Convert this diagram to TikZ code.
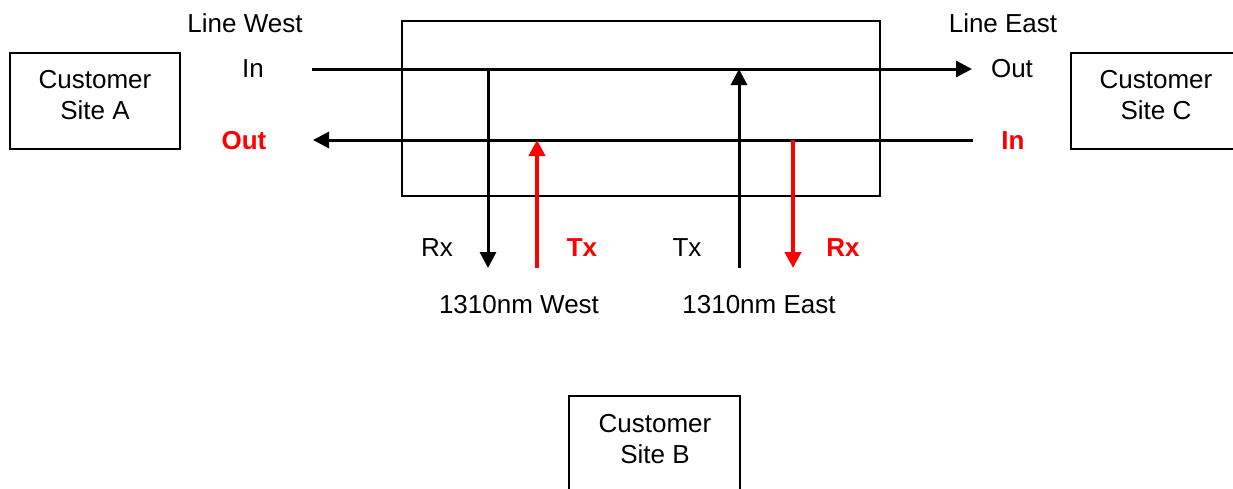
\documentclass[tikz,border=0pt]{standalone}
\usepackage{fontspec}
\setmainfont{Liberation Sans}
\usetikzlibrary{arrows.meta}
\begin{document}
\begin{tikzpicture}[x=1pt,y=-1pt,
  lbl/.style={font=\fontsize{26}{30.5}\selectfont, inner sep=0pt, anchor=base},
  rlbl/.style={lbl, text=red, font=\fontsize{26}{30.5}\selectfont\bfseries},
  sitetext/.style={font=\fontsize{26}{30.5}\selectfont, inner sep=0pt, align=center},
  box/.style={draw, line width=2pt},
  wire/.style={line width=3pt, -{Triangle[length=16pt,width=16pt]}},
  rwire/.style={wire, draw=red, line width=4pt}]
\useasboundingbox (0,0) rectangle (1233,488);
\clip (0,0) rectangle (1233,488);
\fill[white] (0,0) rectangle (1233,488);
% boxes
\draw[box] (10,53) rectangle (180,149);
\draw[box] (402,21) rectangle (880,196);
\draw[box] (1071,53) rectangle (1245,149);
\draw[box] (569,396) rectangle (740,500);
\node[sitetext] (siteA) at (95,95) {Customer\\Site A};
\node[sitetext] (siteC) at (1156,95) {Customer\\Site C};
\node[sitetext] (siteB) at (655,439) {Customer\\Site B};
% labels
\node[lbl] (lw) at (245,32) {Line West};
\node[lbl] (le) at (1003,32) {Line East};
\node[lbl] (inw) at (253,77) {In};
\node[rlbl] (outw) at (244,149) {Out};
\node[lbl] (oute) at (1012,77) {Out};
\node[rlbl] (ine) at (1013,149) {In};
\node[lbl] (rxw) at (437,256) {Rx};
\node[rlbl] (txw) at (582,256) {Tx};
\node[lbl] (txe) at (687,256) {Tx};
\node[rlbl] (rxe) at (843,256) {Rx};
\node[lbl] (nmw) at (519,313) {1310nm West};
\node[lbl] (nme) at (759,313) {1310nm East};
% coordinates
\coordinate (W1) at (312,69);
\coordinate (E1) at (972,69);
\coordinate (E2) at (973,140);
\coordinate (W2) at (313,140);
\coordinate (a1) at (488,69);
\coordinate (a2) at (488,268);
\coordinate (b1) at (537,268);
\coordinate (b2) at (537,140);
\coordinate (c1) at (739,268);
\coordinate (c2) at (739,69);
\coordinate (d1) at (793,140);
\coordinate (d2) at (793,268);
% connectors
\draw[wire] (W1) -- (E1);
\draw[wire] (E2) -- (W2);
\draw[wire] (a1) -- (a2);
\draw[rwire] (b1) -- (b2);
\draw[wire] (c1) -- (c2);
\draw[rwire] (d1) -- (d2);
\end{tikzpicture}
\end{document}
